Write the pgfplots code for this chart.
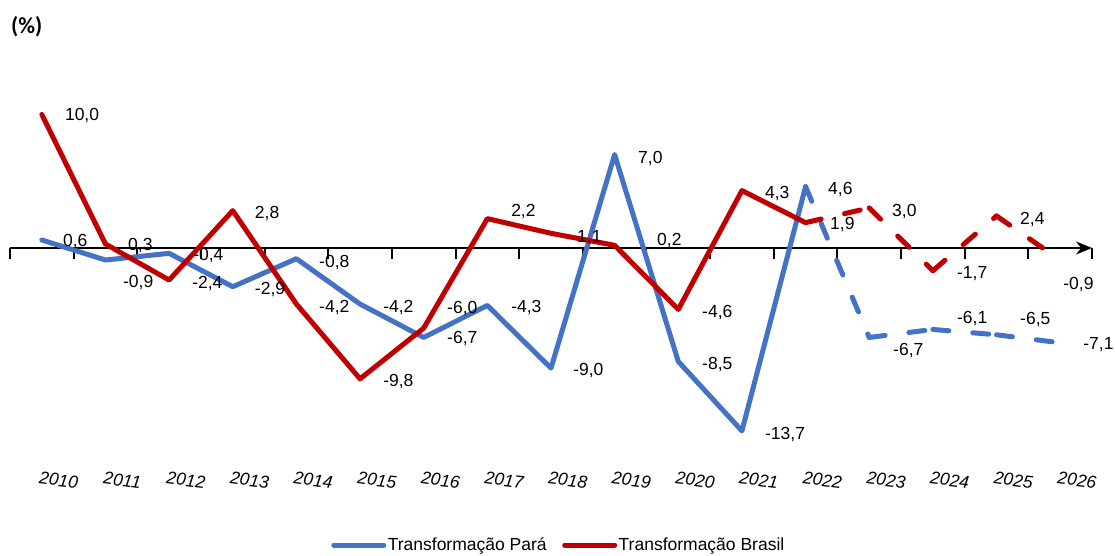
\documentclass[border=0pt]{standalone}
\usepackage{pgfplots}
\pgfplotsset{compat=1.18}
\usepackage{pgfplotstable}
\usepackage{fontspec}
\setmainfont{Liberation Sans}
\newfontfamily\carlito{Carlito}
\usetikzlibrary{arrows.meta}
\definecolor{paraC}{HTML}{4472C4}
\definecolor{brC}{HTML}{C00000}

\pgfplotstableread{
x y lab dx sy
0 0.6 0,6 21 -2
1 -0.9 -0,9 17.5 -22
2 -0.4 -0,4 24 -1.7
3 -2.9 -2,9 22 -2.8
4 -0.8 -0,8 22.6 -3.8
5 -4.2 -4,2 23 -3.5
6 -6.7 -6,7 23.3 -1
7 -4.3 -4,3 23.7 -2
8 -9.0 -9,0 22 -2.8
9 7.0 7,0 23.4 -3.9
10 -8.5 -8,5 23.7 -3
11 -13.7 -13,7 23 -3.6
12 4.6 4,6 22.4 -3.4
13 -6.7 -6,7 23.8 -12.6
14 -6.1 -6,1 24 10.9
15 -6.5 -6,5 23.5 14.8
16 -7.1 -7,1 23 -1.7
}\paralab

\pgfplotstableread{
x y lab dx sy
0 10.0 10,0 23 -1.3
1 0.3 0,3 22.5 -2
2 -2.4 -2,4 23 -3
3 2.8 2,8 22 -2.7
4 -4.2 -4,2 22.6 -3.5
5 -9.8 -9,8 23 -2.7
6 -6.0 -6,0 23.3 20
7 2.2 2,2 23.7 7.6
8 1.1 1,1 26 -4.2
9 0.2 0,2 42.4 5.3
10 -4.6 -4,6 23.7 -3
11 4.3 4,3 23 -3.4
12 1.9 1,9 24.4 -2
13 3.0 3,0 22.8 -3.5
14 -1.7 -1,7 24 -2.8
15 2.4 2,4 23.5 -4
16 -0.9 -0,9 3 -24.5
}\brlab

\pgfplotsset{
  base/.style={at={(10pt,93.4pt)}, anchor=south west, scale only axis,
    width=1082pt, height=413.85pt, xmin=-0.5, xmax=16.5, ymin=-16, ymax=15,
    clip=false, font=\fontsize{17.5}{21}\selectfont},
  sol/.style={line width=5pt, line join=round, line cap=round},
  dsh/.style={line width=5pt, line join=round, line cap=round, dash pattern=on 16pt off 24pt, forget plot},
  lab/.style={draw=none, mark=none, forget plot, nodes near coords={\pgfplotspointmeta},
    point meta=explicit symbolic,
    visualization depends on={\thisrow{dx} \as \dx},
    visualization depends on={\thisrow{sy} \as \sy},
    nodes near coords style={anchor=west, inner sep=0pt, xshift=\dx pt, yshift=\sy pt, text=black}},
}

\begin{document}
\begin{tikzpicture}
% zero line with ticks between categories
\begin{axis}[base, axis x line=middle, axis y line=none,
  xtick={-0.5,0.5,...,16.5}, xticklabels={}, xticklabel style={opacity=0, text opacity=0},
  ytick=\empty,
  major tick length=11pt, tick align=outside,
  every tick/.style={black, line width=2pt},
  x axis line style={line width=2pt, -{Stealth[length=16pt,width=13pt]}}]
\addplot[draw=none] coordinates {(0,0)};
\end{axis}

\begin{axis}[base, axis line style={draw=none},
  xtick={0,...,16},
  xticklabels={2010,2011,2012,2013,2014,2015,2016,2017,2018,2019,2020,2021,2022,2023,2024,2025,2026},
  ytick=\empty, major tick length=0pt, tick style={draw=none},
  xticklabel style={font=\fontsize{17.5}{21}\selectfont\itshape, rotate=-7, anchor=center, xshift=19pt, yshift=-16.4pt},
  legend style={at={(0.507,-0.2015)}, anchor=center, draw=none, fill=none,
    font=\fontsize{17.5}{21}\selectfont, legend columns=2,
    /tikz/every even column/.append style={column sep=14pt},
    nodes={inner sep=1.5pt}},
  legend cell align=left,
  legend image code/.code={\draw[#1, solid, line cap=round] (0pt,0pt) -- (50pt,0pt);}]
% Transformacao Para
\addplot[paraC, sol] coordinates {(0,0.6) (1,-0.9) (2,-0.4) (3,-2.9) (4,-0.8) (5,-4.2) (6,-6.7) (7,-4.3) (8,-9.0) (9,7.0) (10,-8.5) (11,-13.7) (12,4.6)};
\addlegendentry{Transformação Pará}
\addplot[paraC, dsh] coordinates {(12,4.6) (13,-6.7)};
\addplot[paraC, dsh] coordinates {(13,-6.7) (14,-6.1)};
\addplot[paraC, dsh] coordinates {(14,-6.1) (15,-6.5)};
\addplot[paraC, dsh] coordinates {(15,-6.5) (16,-7.1)};
% Transformacao Brasil
\addplot[brC, sol] coordinates {(0,10.0) (1,0.3) (2,-2.4) (3,2.8) (4,-4.2) (5,-9.8) (6,-6.0) (7,2.2) (8,1.1) (9,0.2) (10,-4.6) (11,4.3) (12,1.9)};
\addlegendentry{Transformação Brasil}
\addplot[brC, dsh] coordinates {(12,1.9) (13,3.0)};
\addplot[brC, dsh] coordinates {(13,3.0) (14,-1.7)};
\addplot[brC, dsh] coordinates {(14,-1.7) (15,2.4)};
\addplot[brC, dsh] coordinates {(15,2.4) (16,-0.9)};
% data labels
\addplot[lab] table[x=x, y=y, meta=lab] {\paralab};
\addplot[lab] table[x=x, y=y, meta=lab] {\brlab};
\end{axis}

\node[font=\carlito\bfseries\fontsize{23}{26}\selectfont] at (26.7pt,528pt) {(\%)};
\pgfresetboundingbox
\path[use as bounding box] (0,0) rectangle (1115pt,555pt);
\end{tikzpicture}
\end{document}
